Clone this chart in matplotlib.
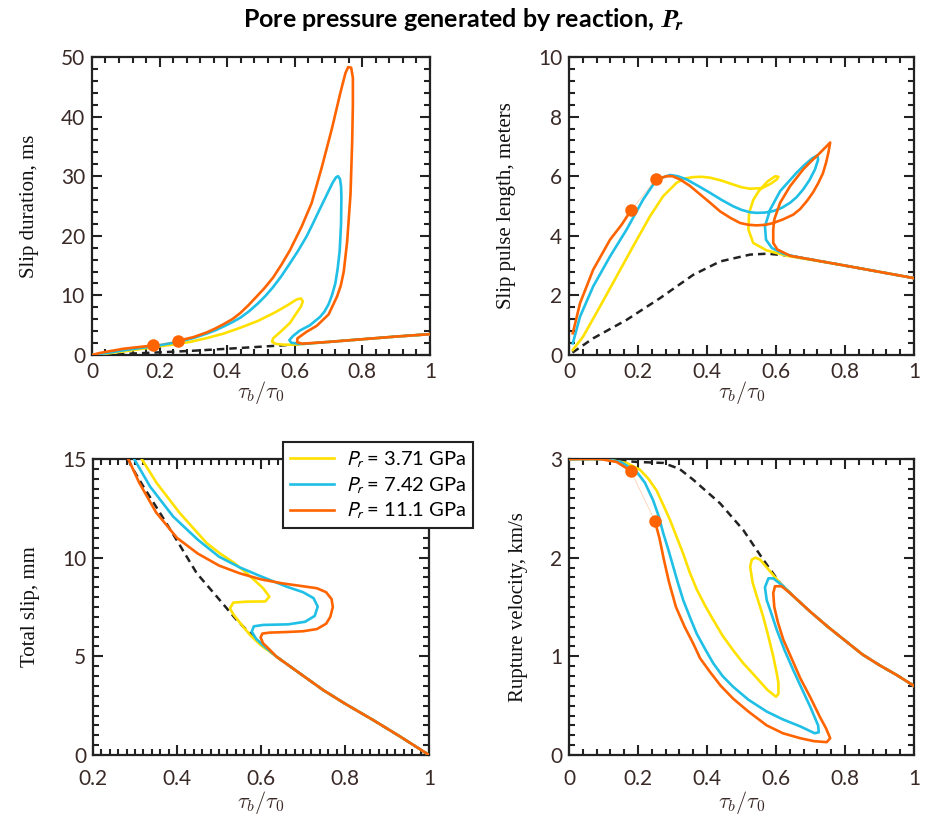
import matplotlib
matplotlib.use("Agg")
import matplotlib.pyplot as plt
from matplotlib.ticker import MultipleLocator, FuncFormatter
from matplotlib.font_manager import FontProperties

plt.rcParams['font.family'] = ['Lato', 'DejaVu Sans']

YEL = '#ffe100'
BLU = '#1fbfe6'
ORA = '#ff6400'
TXT = '#3a2a27'

pressures = ["3.71", "7.42", "11.1"]

# ---- slip duration (ms) vs tau_b/tau_0 ----
dur_dashed = [(0, 0), (0.1, 0.2), (0.2, 0.45), (0.3, 0.72), (0.4, 1.05), (0.5, 1.4),
              (0.6, 1.75), (0.7, 2.2), (0.8, 2.65), (0.9, 3.1), (1.0, 3.5)]
dur_yellow = [(0, 0), (0.05, 0.3), (0.1, 0.65), (0.18, 1.3), (0.25, 1.85), (0.29, 2.2),
              (0.34, 2.85), (0.39, 3.6), (0.44, 4.6), (0.49, 5.7), (0.54, 7.1), (0.58, 8.4),
              (0.605, 9.3), (0.618, 9.5), (0.624, 9.0), (0.618, 8.1), (0.6, 6.6), (0.586, 5.4),
              (0.56, 4.0), (0.536, 2.8), (0.533, 2.2), (0.545, 1.85), (0.57, 1.72), (0.6, 1.75),
              (0.7, 2.2), (0.8, 2.65), (0.9, 3.1), (1.0, 3.5)]
dur_blue = [(0, 0), (0.05, 0.4), (0.1, 0.85), (0.18, 1.45), (0.255, 2.2), (0.3, 2.85),
            (0.34, 3.6), (0.365, 4.15), (0.39, 4.8), (0.415, 5.5), (0.44, 6.3), (0.465, 7.35),
            (0.49, 8.6), (0.513, 9.9), (0.536, 11.4), (0.56, 13.2), (0.586, 15.4),
            (0.61, 17.5), (0.635, 19.9), (0.655, 22.2), (0.67, 24.0), (0.694, 26.8),
            (0.712, 28.9), (0.722, 29.8), (0.728, 30.0), (0.734, 29.5), (0.737, 28.3),
            (0.738, 26.5), (0.737, 22.0), (0.733, 17.5), (0.727, 14.5), (0.72, 12.0),
            (0.71, 10.0), (0.7, 8.5), (0.688, 7.3), (0.675, 6.4), (0.645, 5.0), (0.615, 4.1),
            (0.595, 3.2), (0.584, 2.5), (0.59, 2.05), (0.62, 1.85), (0.7, 2.2), (0.8, 2.65),
            (0.9, 3.1), (1.0, 3.5)]
dur_orange_a = [(0, 0), (0.02, 0.3), (0.043, 0.55), (0.093, 1.05), (0.14, 1.35), (0.181, 1.6)]
dur_orange_b = [(0.255, 2.4), (0.3, 3.0), (0.34, 3.8), (0.365, 4.45), (0.39, 5.2),
                (0.415, 6.0), (0.438, 7.0), (0.462, 8.3), (0.487, 9.8), (0.51, 11.2),
                (0.536, 13.0), (0.56, 15.1), (0.586, 17.6), (0.62, 21.5), (0.65, 25.5),
                (0.68, 31.5), (0.71, 38.0), (0.735, 44.0), (0.75, 47.3), (0.758, 48.3),
                (0.767, 48.2), (0.772, 46.5), (0.772, 42.0), (0.77, 36.0), (0.765, 27.0),
                (0.755, 19.0), (0.745, 14.0), (0.736, 11.6), (0.725, 9.8), (0.7, 6.8),
                (0.665, 4.9), (0.635, 3.9), (0.608, 2.8), (0.607, 2.15), (0.622, 1.9),
                (0.7, 2.2), (0.8, 2.65), (0.9, 3.1), (1.0, 3.5)]
dur_dots = [(0.181, 1.6), (0.255, 2.4)]

# ---- slip pulse length (m) ----
len_dashed = [(0.01, 0.08), (0.07, 0.56), (0.167, 1.18), (0.264, 1.91), (0.36, 2.69),
              (0.438, 3.14), (0.525, 3.37), (0.575, 3.4), (0.641, 3.33), (0.786, 3.03),
              (1.0, 2.58)]
len_yellow = [(0.011, 0.17), (0.041, 0.62), (0.09, 1.63), (0.138, 2.64), (0.186, 3.65),
              (0.235, 4.66), (0.273, 5.33), (0.312, 5.78), (0.335, 5.92), (0.36, 5.97),
              (0.385, 5.98), (0.409, 5.95), (0.443, 5.85), (0.476, 5.72), (0.5, 5.63),
              (0.525, 5.58), (0.56, 5.6), (0.585, 5.75), (0.602, 5.89), (0.607, 5.98),
              (0.598, 6.0), (0.575, 5.82), (0.55, 5.5), (0.534, 5.2), (0.522, 4.77),
              (0.52, 4.21), (0.534, 3.76), (0.573, 3.51), (0.631, 3.33), (0.786, 3.03),
              (1.0, 2.58)]
len_blue = [(0.011, 0.39), (0.032, 1.29), (0.07, 2.3), (0.119, 3.31), (0.167, 4.21),
            (0.215, 5.22), (0.254, 5.89), (0.293, 6.04), (0.315, 6.0), (0.341, 5.89),
            (0.375, 5.67), (0.409, 5.44), (0.443, 5.2), (0.476, 4.99), (0.5, 4.87),
            (0.525, 4.79), (0.544, 4.77), (0.568, 4.78), (0.592, 4.83), (0.617, 4.94),
            (0.641, 5.11), (0.66, 5.3), (0.679, 5.56), (0.697, 5.87), (0.713, 6.23),
            (0.722, 6.55), (0.72, 6.7), (0.705, 6.6), (0.68, 6.35), (0.66, 6.12),
            (0.612, 5.5), (0.583, 4.88), (0.568, 4.32), (0.571, 3.87), (0.588, 3.59),
            (0.621, 3.4), (0.66, 3.29), (0.786, 3.03), (1.0, 2.58)]
len_orange_a = [(0.011, 0.73), (0.032, 1.74), (0.07, 2.86), (0.119, 3.87), (0.153, 4.38),
                (0.18, 4.86)]
len_orange_b = [(0.252, 5.89), (0.283, 6.0), (0.3, 6.0), (0.322, 5.89), (0.35, 5.68),
                (0.38, 5.39), (0.41, 5.1), (0.438, 4.82), (0.468, 4.6), (0.496, 4.43),
                (0.52, 4.37), (0.544, 4.35), (0.57, 4.37), (0.592, 4.43), (0.62, 4.55),
                (0.65, 4.71), (0.67, 4.9), (0.689, 5.16), (0.707, 5.45), (0.723, 5.78),
                (0.736, 6.1), (0.745, 6.45), (0.752, 6.8), (0.757, 7.13), (0.74, 6.93),
                (0.723, 6.73), (0.7, 6.48), (0.679, 6.23), (0.641, 5.67), (0.612, 5.11),
                (0.595, 4.55), (0.592, 4.21), (0.592, 3.76), (0.604, 3.54), (0.641, 3.33),
                (0.786, 3.03), (1.0, 2.58)]
len_dots = [(0.18, 4.86), (0.252, 5.89)]

# ---- total slip (mm) ----
slip_dashed = [(0.284, 15.0), (0.292, 14.6), (0.32, 13.6), (0.36, 12.25), (0.399, 10.9),
               (0.447, 9.21), (0.495, 8.02), (0.542, 6.84), (0.59, 5.83), (0.637, 4.98),
               (0.7, 4.02), (0.748, 3.29), (0.8, 2.6), (0.867, 1.77), (0.93, 0.95), (1.0, 0.0)]
slip_yellow = [(0.316, 15.0), (0.352, 13.77), (0.407, 12.25), (0.471, 10.73), (0.502, 10.22),
               (0.535, 9.75), (0.566, 9.21), (0.59, 8.75), (0.605, 8.45), (0.62, 8.02),
               (0.61, 7.78), (0.566, 7.77), (0.534, 7.72), (0.526, 7.43), (0.535, 7.1),
               (0.55, 6.7), (0.574, 6.08), (0.6, 5.55), (0.62, 5.25), (0.637, 4.98),
               (0.7, 4.02), (0.748, 3.29), (0.8, 2.6), (0.867, 1.77), (0.93, 0.95), (1.0, 0.0)]
slip_blue = [(0.298, 15.0), (0.336, 13.6), (0.391, 12.08), (0.45, 10.9), (0.5, 10.05),
             (0.55, 9.5), (0.6, 9.05), (0.661, 8.53), (0.7, 8.25), (0.725, 7.95), (0.735, 7.52),
             (0.728, 7.05), (0.705, 6.75), (0.665, 6.62), (0.605, 6.59), (0.583, 6.52),
             (0.578, 6.25), (0.588, 5.9), (0.605, 5.55), (0.625, 5.2), (0.637, 4.98),
             (0.7, 4.02), (0.748, 3.29), (0.8, 2.6), (0.867, 1.77), (0.93, 0.95), (1.0, 0.0)]
slip_orange = [(0.284, 15.0), (0.31, 13.8), (0.35, 12.3), (0.4, 11.0), (0.45, 10.2),
               (0.5, 9.6), (0.55, 9.2), (0.6, 8.9), (0.65, 8.7), (0.7, 8.55), (0.733, 8.45),
               (0.755, 8.25), (0.768, 7.9), (0.771, 7.5), (0.765, 7.0), (0.755, 6.65),
               (0.733, 6.38), (0.7, 6.27), (0.66, 6.23), (0.62, 6.2), (0.603, 6.15),
               (0.599, 5.95), (0.605, 5.66), (0.62, 5.35), (0.637, 4.98), (0.7, 4.02),
               (0.748, 3.29), (0.8, 2.6), (0.867, 1.77), (0.93, 0.95), (1.0, 0.0)]

# ---- rupture velocity (km/s) ----
vel_dashed = [(0, 3.0), (0.1, 3.0), (0.196, 2.97), (0.273, 2.96), (0.32, 2.9), (0.36, 2.79),
              (0.438, 2.55), (0.505, 2.28), (0.563, 1.98), (0.612, 1.74), (0.65, 1.61),
              (0.7, 1.45), (0.75, 1.3), (0.8, 1.16), (0.85, 1.02), (0.9, 0.91), (0.95, 0.81),
              (1.0, 0.7)]
vel_yellow = [(0, 3.0), (0.1, 3.0), (0.167, 2.96), (0.206, 2.89), (0.23, 2.8), (0.254, 2.68),
              (0.275, 2.52), (0.293, 2.38), (0.312, 2.21), (0.331, 2.04), (0.35, 1.85),
              (0.37, 1.68), (0.395, 1.51), (0.418, 1.37), (0.445, 1.21), (0.476, 1.06),
              (0.505, 0.93), (0.534, 0.82), (0.575, 0.66), (0.6, 0.59), (0.607, 0.62),
              (0.607, 0.73), (0.602, 0.83), (0.592, 1.0), (0.578, 1.2), (0.563, 1.4),
              (0.545, 1.6), (0.532, 1.75), (0.525, 1.91), (0.53, 1.98), (0.54, 2.0),
              (0.554, 1.98), (0.583, 1.86), (0.612, 1.74), (0.65, 1.61), (0.7, 1.45),
              (0.75, 1.3), (0.8, 1.16), (0.85, 1.02), (0.9, 0.91), (0.95, 0.81), (1.0, 0.7)]
vel_blue = [(0, 3.0), (0.1, 3.0), (0.15, 2.97), (0.196, 2.87), (0.22, 2.76), (0.244, 2.58),
            (0.26, 2.42), (0.273, 2.25), (0.288, 2.08), (0.302, 1.91), (0.316, 1.74),
            (0.331, 1.57), (0.35, 1.4), (0.37, 1.23), (0.395, 1.07), (0.418, 0.93),
            (0.445, 0.8), (0.476, 0.69), (0.52, 0.56), (0.573, 0.44), (0.62, 0.36),
            (0.67, 0.29), (0.712, 0.22), (0.724, 0.23), (0.722, 0.3), (0.699, 0.49),
            (0.675, 0.67), (0.65, 0.86), (0.625, 1.06), (0.602, 1.27), (0.585, 1.45),
            (0.573, 1.57), (0.568, 1.7), (0.578, 1.79), (0.592, 1.79), (0.621, 1.71),
            (0.65, 1.61), (0.7, 1.45), (0.75, 1.3), (0.8, 1.16), (0.85, 1.02), (0.9, 0.91),
            (0.95, 0.81), (1.0, 0.7)]
vel_orange_a = [(0, 3.0), (0.09, 3.0), (0.138, 2.97), (0.179, 2.88)]
vel_orange_b = [(0.249, 2.37), (0.262, 2.2), (0.275, 1.98), (0.29, 1.75), (0.31, 1.5),
                (0.335, 1.3), (0.36, 1.13), (0.38, 0.98), (0.409, 0.84), (0.44, 0.7),
                (0.476, 0.57), (0.52, 0.44), (0.573, 0.3), (0.62, 0.22), (0.67, 0.17),
                (0.71, 0.14), (0.747, 0.13), (0.757, 0.17), (0.745, 0.27), (0.728, 0.38),
                (0.7, 0.58), (0.67, 0.78), (0.645, 0.98), (0.621, 1.17), (0.605, 1.35),
                (0.595, 1.5), (0.592, 1.64), (0.597, 1.71), (0.616, 1.71), (0.641, 1.64),
                (0.7, 1.45), (0.75, 1.3), (0.8, 1.16), (0.85, 1.02), (0.9, 0.91),
                (0.95, 0.81), (1.0, 0.7)]
vel_dots = [(0.179, 2.88), (0.249, 2.37)]


def xy(pts):
    return [p[0] for p in pts], [p[1] for p in pts]


def draw(ax, dashed, yellow, blue, orange_a, orange_b=None, dots=None):
    ax.plot(*xy(dashed), color='#222222', lw=1.8, dashes=(3, 2), zorder=2)
    ax.plot(*xy(yellow), color=YEL, lw=1.9, zorder=3, label=rf"$P_r$ = {pressures[0]} GPa")
    ax.plot(*xy(blue), color=BLU, lw=1.9, zorder=4, label=rf"$P_r$ = {pressures[1]} GPa")
    ax.plot(*xy(orange_a), color=ORA, lw=1.9, zorder=5, label=rf"$P_r$ = {pressures[2]} GPa")
    if orange_b is not None:
        ax.plot(*xy(orange_b), color=ORA, lw=1.9, zorder=5)
    if dots is not None:
        ax.plot(*xy(dots), color=ORA, lw=0.5, alpha=0.35, zorder=5)
        ax.plot(*xy(dots), 'o', color=ORA, ms=9, mec='none', zorder=6)


def style(ax, xlim, ylim, xmaj, xmin, ymaj, ymin, ylabel, xpad, lpad):
    ax.set_xlim(xlim)
    ax.set_ylim(ylim)
    ax.xaxis.set_major_locator(MultipleLocator(xmaj))
    ax.xaxis.set_minor_locator(MultipleLocator(xmin))
    ax.yaxis.set_major_locator(MultipleLocator(ymaj))
    ax.yaxis.set_minor_locator(MultipleLocator(ymin))
    fmt = FuncFormatter(lambda v, p: f"{round(v, 6):g}")
    ax.xaxis.set_major_formatter(fmt)
    ax.yaxis.set_major_formatter(fmt)
    ax.tick_params(which='both', direction='in', top=True, right=True, width=1.5,
                   color='#222222', labelcolor=TXT, labelsize=15)
    ax.tick_params(axis='y', pad=5)
    ax.tick_params(axis='x', pad=xpad)
    ax.tick_params(which='major', length=7)
    ax.tick_params(which='minor', length=4)
    for s in ax.spines.values():
        s.set_linewidth(1.6)
        s.set_color('#222222')
    ax.set_xlabel(r"$\tau_b/\tau_0$", fontsize=16, color=TXT, labelpad=lpad,
                  math_fontfamily='cm')
    ax.set_ylabel(ylabel, fontsize=15, family='Liberation Serif', color='#111111',
                  labelpad=16)


fig = plt.figure(figsize=(9.27, 8.27), dpi=100)
ax1 = fig.add_axes([0.0992, 0.5707, 0.3646, 0.3604])
ax2 = fig.add_axes([0.6138, 0.5707, 0.3722, 0.3604])
ax3 = fig.add_axes([0.1003, 0.0871, 0.3625, 0.3579])
ax4 = fig.add_axes([0.6138, 0.0871, 0.3722, 0.3579])

draw(ax1, dur_dashed, dur_yellow, dur_blue, dur_orange_a, dur_orange_b, dur_dots)
style(ax1, (0, 1), (0, 50), 0.2, 0.04, 10, 2, "Slip duration, ms", 5, -2)

draw(ax2, len_dashed, len_yellow, len_blue, len_orange_a, len_orange_b, len_dots)
style(ax2, (0, 1), (0, 10), 0.2, 0.04, 2, 0.4, "Slip pulse length, meters", 5, -2)

draw(ax3, slip_dashed, slip_yellow, slip_blue, slip_orange)
style(ax3, (0.2, 1), (0, 15), 0.2, 0.02, 5, 0.5, "Total slip, mm", 10, 0)

draw(ax4, vel_dashed, vel_yellow, vel_blue, vel_orange_a, vel_orange_b, vel_dots)
style(ax4, (0, 1), (0, 3), 0.2, 0.04, 1, 0.1, "Rupture velocity, km/s", 10, 0)

handles, labs = ax3.get_legend_handles_labels()
leg = fig.legend(handles, labs, loc='upper left', bbox_to_anchor=(0.305, 0.4655),
                 borderaxespad=0, fancybox=False, framealpha=1, edgecolor='#222222',
                 handlelength=2.2, handletextpad=0.6, labelspacing=0.25, borderpad=0.35,
                 prop=FontProperties(family='Lato', size=14.5, math_fontfamily='stixsans'))
leg.get_frame().set_linewidth(1.5)

fig.text(0.5, 0.977, r"Pore pressure generated by reaction, $\mathbfit{P_r}$",
         ha='center', va='center', fontsize=18, fontweight='bold',
         math_fontfamily='stixsans')

fig.savefig("out.png", dpi=100)
